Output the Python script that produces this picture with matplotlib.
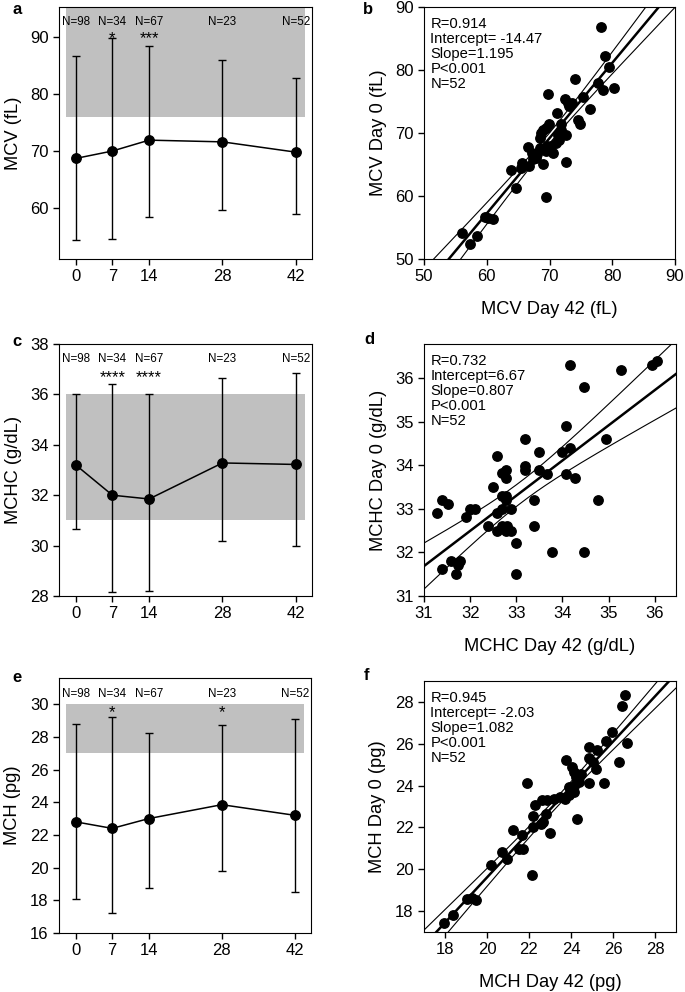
import numpy as np
import matplotlib.pyplot as plt

plt.rcParams['font.family'] = ['Liberation Sans', 'DejaVu Sans']

days = [0, 7, 14, 28, 42]
n_labels = ['N=98', 'N=34', 'N=67', 'N=23', 'N=52']

# time course panels (mean, upper and lower whisker ends)
mcv_mean = [68.7, 70.0, 71.9, 71.6, 69.8]
mcv_hi = [86.6, 89.8, 88.4, 85.9, 82.7]
mcv_lo = [54.5, 54.6, 58.4, 59.7, 58.9]
mcv_stars = ['', '*', '***', '', '']

mchc_mean = [33.2, 32.0, 31.85, 33.28, 33.22]
mchc_hi = [36.0, 36.4, 36.0, 36.65, 36.83]
mchc_lo = [30.65, 28.15, 28.2, 30.2, 30.0]
mchc_stars = ['', '****', '****', '', '']

mch_mean = [22.8, 22.4, 23.0, 23.85, 23.2]
mch_hi = [28.8, 29.2, 28.25, 28.7, 29.1]
mch_lo = [18.1, 17.2, 18.75, 19.8, 18.5]
mch_stars = ['', '*', '', '*', '']

# day 42 (x) vs day 0 (y)
mcv_d42 = [78.2, 78.8, 79.5, 80.3, 77.8, 78.6, 74.1, 69.7, 75.3, 72.5, 72.9, 73.6,
           76.4, 71.2, 74.5, 74.8, 71.8, 69.9, 69.4, 69.0, 68.6, 71.9, 72.7, 71.5,
           71.1, 70.2, 66.5, 67.2, 70.6, 69.4, 68.0, 67.3, 67.8, 65.6, 69.0, 72.7,
           66.8, 65.5, 63.8, 64.6, 69.5, 59.7, 61.0, 60.2, 56.0, 58.4, 57.4, 68.5,
           71.4, 73.1, 68.5, 69.6]
mcv_d0 = [86.8, 82.3, 80.5, 77.2, 78.0, 76.9, 78.5, 76.2, 75.7, 75.4, 74.8, 74.8,
          73.8, 73.2, 72.1, 71.5, 71.4, 71.5, 70.8, 70.4, 70.0, 70.4, 69.7, 68.9,
          68.4, 68.0, 67.8, 66.8, 66.8, 67.2, 66.7, 65.9, 66.0, 65.3, 65.1, 65.4,
          64.7, 64.5, 64.2, 61.3, 59.8, 56.7, 56.3, 56.5, 54.2, 53.6, 52.4, 67.6,
          69.7, 74.3, 69.2, 67.9]

mchc_d42 = [31.29, 31.39, 31.51, 31.99, 32.10, 31.90, 32.39, 32.50, 32.59, 32.59,
            32.59, 32.69, 32.78, 32.78, 32.69, 32.78, 32.69, 32.69, 32.78, 32.89,
            32.89, 32.99, 32.99, 32.78, 33.18, 33.18, 33.18, 33.38, 33.38, 33.49,
            33.49, 33.67, 33.77, 33.98, 34.07, 34.17, 34.07, 34.27, 34.17, 34.47,
            34.47, 34.76, 34.95, 35.26, 35.95, 36.05, 31.40, 31.59, 31.79, 31.69,
            31.74, 32.80]
mchc_d0 = [32.90, 33.21, 33.11, 33.00, 33.00, 32.81, 32.61, 33.51, 34.20, 32.91,
           32.50, 33.82, 33.89, 33.70, 33.30, 33.30, 33.00, 32.61, 32.50, 32.50,
           33.00, 32.21, 31.51, 33.21, 34.60, 33.99, 33.89, 33.21, 32.61, 34.30,
           33.89, 33.80, 32.00, 34.30, 34.89, 34.39, 33.80, 33.70, 36.29, 35.79,
           32.00, 33.21, 34.60, 36.19, 36.29, 36.38, 31.61, 31.81, 31.81, 31.51,
           31.71, 32.60]

mch_d42 = [26.56, 26.44, 26.68, 25.97, 25.65, 25.25, 24.86, 24.86, 25.06, 25.17,
           26.29, 25.57, 24.86, 23.78, 24.06, 24.14, 24.22, 24.38, 24.30, 24.14,
           24.14, 23.90, 23.70, 23.48, 23.19, 22.87, 22.63, 21.89, 22.29, 22.19,
           22.79, 22.68, 22.19, 22.56, 23.02, 24.27, 21.25, 21.65, 21.52, 21.73,
           20.73, 20.97, 20.17, 22.16, 19.06, 19.46, 19.27, 18.38, 17.97, 24.38,
           24.46, 23.90]
mch_d0 = [28.32, 27.81, 26.02, 26.54, 26.11, 25.71, 25.83, 25.32, 25.11, 24.79,
          25.11, 24.11, 24.11, 25.22, 24.90, 24.63, 24.40, 24.43, 24.21, 24.00,
          23.68, 23.57, 23.37, 23.44, 23.37, 23.33, 23.32, 24.11, 23.05, 22.54,
          22.65, 22.25, 22.02, 22.17, 21.73, 22.41, 21.90, 21.62, 20.98, 20.98,
          20.83, 20.51, 20.19, 19.71, 18.60, 18.52, 18.63, 17.81, 17.41, 24.16,
          24.56, 23.92]

W, H = 685, 992
fig = plt.figure(figsize=(W / 100, H / 100), dpi=100)


def add_ax(left, top, right, bottom):
    return fig.add_axes([left / W, 1 - bottom / H, (right - left) / W, (bottom - top) / H])


def line_panel(ax, mean, lo, hi, stars, ref, ylim, yticks, ylabel, ny, sy):
    ax.fill_between([-1.9, 43.7], ref[0], ref[1], color='#c0c0c0', lw=0, zorder=0)
    mean = np.array(mean)
    yerr = [mean - np.array(lo), np.array(hi) - mean]
    ax.errorbar(days, mean, yerr=yerr, color='black', lw=1.1, elinewidth=1.0,
                capsize=2.8, capthick=1.0, marker='o', ms=6.8, zorder=3)
    for d, n, s in zip(days, n_labels, stars):
        ax.text(d, ny, n, ha='center', va='center', fontsize=8.4)
        if s:
            ax.text(d, sy, s, ha='center', va='baseline', fontsize=12)
    ax.set_xlim(-3.2, 45.1)
    ax.set_ylim(*ylim)
    ax.set_xticks(days)
    ax.set_yticks(yticks)
    ax.set_ylabel(ylabel, fontsize=13.2, labelpad=6)
    ax.tick_params(labelsize=12, direction='out', length=4, width=1)


def scatter_panel(ax, x, y, icpt, slope, stats, lim, ticks, xlabel, ylabel):
    x = np.array(x)
    y = np.array(y)
    n = len(x)
    xs = np.linspace(lim[0][0], lim[0][1], 200)
    yhat = icpt + slope * xs
    res = y - (icpt + slope * x)
    s = np.sqrt(np.sum(res ** 2) / (n - 2))
    sxx = np.sum((x - x.mean()) ** 2)
    half = 2.009 * s * np.sqrt(1 / n + (xs - x.mean()) ** 2 / sxx)
    ax.scatter(x, y, s=46, color='black', zorder=3)
    ax.plot(xs, yhat, color='black', lw=1.8)
    ax.plot(xs, yhat + half, color='black', lw=0.8)
    ax.plot(xs, yhat - half, color='black', lw=0.8)
    ax.text(0.025, 0.962, stats, transform=ax.transAxes, va='top', ha='left',
            fontsize=10.6, linespacing=1.1)
    ax.set_xlim(*lim[0])
    ax.set_ylim(*lim[1])
    ax.set_xticks(ticks[0])
    ax.set_yticks(ticks[1])
    ax.set_xlabel(xlabel, fontsize=13.2, labelpad=12)
    ax.set_ylabel(ylabel, fontsize=13.2, labelpad=6)
    ax.tick_params(labelsize=12, direction='out', length=4, width=1)


ax_a = add_ax(59, 7, 312, 259)
line_panel(ax_a, mcv_mean, mcv_lo, mcv_hi, mcv_stars, (76, 95.2), (51.1, 95.2),
           [60, 70, 80, 90], 'MCV (fL)', 92.6, 88.95)
ax_b = add_ax(424, 7, 675, 259)
scatter_panel(ax_b, mcv_d42, mcv_d0, -14.47, 1.195,
              'R=0.914\nIntercept= -14.47\nSlope=1.195\nP<0.001\nN=52',
              ((50, 90), (50, 90)), ([50, 60, 70, 80, 90], [50, 60, 70, 80, 90]),
              'MCV Day 42 (fL)', 'MCV Day 0 (fL)')

ax_c = add_ax(59, 344, 312, 596)
line_panel(ax_c, mchc_mean, mchc_lo, mchc_hi, mchc_stars, (31, 36), (28, 38),
           [28, 30, 32, 34, 36, 38], 'MCHC (g/dL)', 37.4, 36.5)
ax_d = add_ax(424, 344, 676, 596)
scatter_panel(ax_d, mchc_d42, mchc_d0, 6.67, 0.807,
              'R=0.732\nIntercept=6.67\nSlope=0.807\nP<0.001\nN=52',
              ((31, 36.46), (31, 36.78)), ([31, 32, 33, 34, 35, 36], [31, 32, 33, 34, 35, 36]),
              'MCHC Day 42 (g/dL)', 'MCHC Day 0 (g/dL)')

ax_e = add_ax(59, 678, 311, 933)
line_panel(ax_e, mch_mean, mch_lo, mch_hi, mch_stars, (27, 30), (16, 31.6),
           [16, 18, 20, 22, 24, 26, 28, 30], 'MCH (pg)', 30.6, 29.2)
ax_f = add_ax(424, 681, 676, 932)
scatter_panel(ax_f, mch_d42, mch_d0, -2.03, 1.082,
              'R=0.945\nIntercept= -2.03\nSlope=1.082\nP<0.001\nN=52',
              ((17, 29), (17, 29)), ([18, 20, 22, 24, 26, 28], [18, 20, 22, 24, 26, 28]),
              'MCH Day 42 (pg)', 'MCH Day 0 (pg)')

for lab, (px, py) in zip('abcdef', [(12, 10), (363, 10), (12, 341), (364, 340),
                                     (12, 677), (364, 675)]):
    fig.text(px / W, 1 - py / H, lab, fontsize=12, fontweight='bold', va='center')

fig.savefig('out.png', dpi=100)
